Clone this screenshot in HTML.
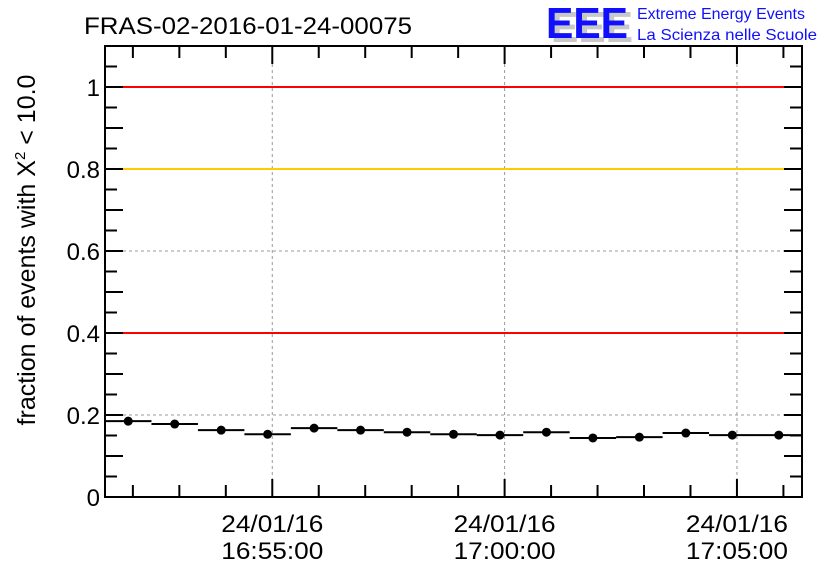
<!DOCTYPE html>
<html><head><meta charset="utf-8"><style>
body{margin:0;background:#fff;}
svg text{font-family:"Liberation Sans",sans-serif;}
</style></head><body>
<svg id="chart" width="836" height="572" xmlns="http://www.w3.org/2000/svg">
<text x="84" y="34" font-size="24" textLength="328" lengthAdjust="spacingAndGlyphs">FRAS-02-2016-01-24-00075</text>
<g>
<text x="551" y="42" font-size="44" font-weight="bold" fill="#c8c8c8" textLength="82" lengthAdjust="spacingAndGlyphs">EEE</text>
<text x="546" y="38" font-size="44" font-weight="bold" fill="#1010ff" textLength="82" lengthAdjust="spacingAndGlyphs">EEE</text>
<text x="637" y="19" font-size="16" fill="#1010ff" textLength="168" lengthAdjust="spacingAndGlyphs">Extreme Energy Events</text>
<text x="637" y="40" font-size="16" fill="#1010ff" textLength="180" lengthAdjust="spacingAndGlyphs">La Scienza nelle Scuole</text>
</g>
<g id="grid"></g>
<g id="refs"></g>
<g id="series"></g>
<g id="axes"></g>
<text transform="translate(35,250) rotate(-90)" text-anchor="middle" font-size="25">fraction of events with X<tspan dy="-10" font-size="15">2</tspan><tspan dy="10"> &lt; 10.0</tspan></text>
</svg>
<script>
const minuteOffsets=[-3.1,-2.1,-1.1,-0.1,0.9,1.9,2.9,3.9,4.9,5.9,6.9,7.9,8.9,9.9,10.9];
const fractions=[0.185,0.178,0.163,0.153,0.168,0.163,0.158,0.153,0.151,0.158,0.144,0.146,0.156,0.151,0.151];
const yTicks=[0,0.2,0.4,0.6,0.8,1];
const yTickLabels=["0","0.2","0.4","0.6","0.8","1"];
const xMajor=[0,5,10];
const xLabelDate=["24/01/16","24/01/16","24/01/16"];
const xLabelTime=["16:55:00","17:00:00","17:05:00"];
const refValues=[1,0.8,0.4];
const refColors=["#ff0000","#ffcc00","#ff0000"];

const L=105,R=802,T=46,B=497,YMAX=1.1,XMIN=-3.6,XMAX=11.4;
const X=m=>L+(m-XMIN)/(XMAX-XMIN)*(R-L);
const Y=v=>B-v/YMAX*(B-T);
const NS="http://www.w3.org/2000/svg";
function mk(p,t,a){const e=document.createElementNS(NS,t);for(const k in a)e.setAttribute(k,a[k]);p.appendChild(e);return e;}
const grid=document.getElementById('grid'),refs=document.getElementById('refs'),ser=document.getElementById('series'),ax=document.getElementById('axes');
yTicks.forEach((v,i)=>{if(v>0&&v<1){const g=mk(grid,'line',{x1:L,x2:R,y1:Y(v),y2:Y(v),stroke:'#999','stroke-dasharray':'3,3','stroke-width':1});

}});
xMajor.forEach(m=>{const g=mk(grid,'line',{x1:X(m),x2:X(m),y1:T,y2:B,stroke:'#999','stroke-dasharray':'3,3','stroke-width':1});

});
refValues.forEach((v,i)=>{const l=mk(refs,'line',{x1:L,x2:R,y1:Y(v),y2:Y(v),stroke:refColors[i],'stroke-width':2});

});
minuteOffsets.forEach((m,i)=>{
const x1=Math.max(L,X(m-0.5)),x2=Math.min(R,X(m+0.5));
const h=mk(ser,'line',{x1:x1,x2:x2,y1:Y(fractions[i]),y2:Y(fractions[i]),stroke:'#000','stroke-width':2});


const c=mk(ser,'circle',{cx:X(m),cy:Y(fractions[i]),r:4.5,fill:'#000'});


});
const fr=mk(ax,'rect',{x:L,y:T,width:R-L,height:B-T,fill:'none',stroke:'#000','stroke-width':2});


for(let v=0.05;v<YMAX;v+=0.05){const big=Math.abs(v*10-Math.round(v*10))<1e-6;const len=big?18:12;
mk(ax,'line',{x1:L,x2:L+len,y1:Y(v),y2:Y(v),stroke:'#000','stroke-width':2});
mk(ax,'line',{x1:R-len,x2:R,y1:Y(v),y2:Y(v),stroke:'#000','stroke-width':2});}
yTicks.forEach((v,i)=>{const t=mk(ax,'text',{x:L-5,y:Y(v)+9,'text-anchor':'end','font-size':24});t.textContent=yTickLabels[i];

});
for(let m=-3;m<=11;m++){const big=m%5===0;const len=big?18:12;
mk(ax,'line',{x1:X(m),x2:X(m),y1:B-len,y2:B,stroke:'#000','stroke-width':2});
mk(ax,'line',{x1:X(m),x2:X(m),y1:T,y2:T+len,stroke:'#000','stroke-width':2});}
xMajor.forEach((m,i)=>{const t1=mk(ax,'text',{x:X(m),y:532,'text-anchor':'middle','font-size':24,textLength:102,lengthAdjust:'spacingAndGlyphs'});t1.textContent=xLabelDate[i];


const t2=mk(ax,'text',{x:X(m),y:559,'text-anchor':'middle','font-size':24,textLength:102,lengthAdjust:'spacingAndGlyphs'});t2.textContent=xLabelTime[i];

});
</script>
</body></html>
